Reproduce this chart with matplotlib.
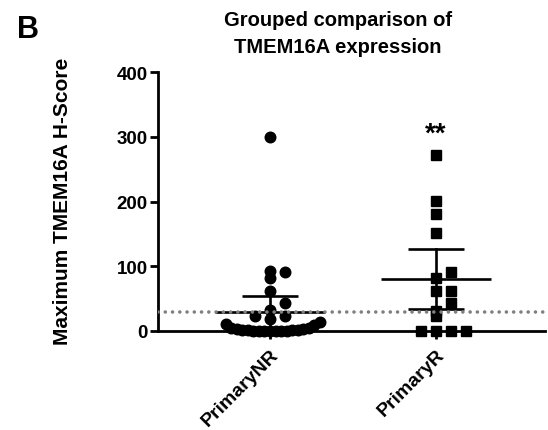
import numpy as np
import matplotlib
matplotlib.use("Agg")
import matplotlib.pyplot as plt

plt.rcParams['font.family'] = ['Liberation Sans', 'DejaVu Sans']
plt.rcParams['font.weight'] = 'bold'

# ---- data ----
categories = ["PrimaryNR", "PrimaryR"]
nr_values = [300, 93, 91, 82, 62, 43, 32, 23, 23, 18, 14, 11, 9, 5, 5, 3, 3,
             2, 2, 1, 1, 0, 0, 0, 0, 0, 0, 0]
r_values = [272, 201, 181, 151, 91, 82, 62, 62, 43, 31, 23, 0, 0, 0, 0]
group_means = [29, 80]
ci_low = [5, 34]
ci_high = [54, 127]
threshold = 30
y_ticks = [0, 100, 200, 300, 400]
significance = ["", "**"]

W, H, DPI = 5.48, 4.31, 100
fig = plt.figure(figsize=(W, H), dpi=DPI)
ax = fig.add_axes([0.2883, 0.2297, 0.7062, 0.6009])
ax.set_xlim(0.325, 2.657)
ax.set_ylim(0, 400)

# pixel scales
ax_w_px = 0.7062 * W * DPI
ax_h_px = 0.6009 * H * DPI
px_per_x = ax_w_px / (2.657 - 0.325)
px_per_y = ax_h_px / 400.0


def swarm(values, marker_px=10.0, max_width_px=100.0):
    """Prism-like binned swarm: returns x offsets (data units)."""
    vals = np.asarray(values, dtype=float)
    bin_h = marker_px / px_per_y
    bins = np.floor(vals / bin_h).astype(int)
    offs = np.zeros(len(vals))
    for b in np.unique(bins):
        idx = np.where(bins == b)[0]
        idx = idx[np.argsort(vals[idx], kind='stable')]
        n = len(idx)
        step = marker_px * 1.5
        if n * step > max_width_px:
            step = max_width_px / n
        for k, i in enumerate(idx):
            m = (k + 1) // 2
            sign = 1 if k % 2 == 1 else -1
            offs[i] = sign * m * step if k > 0 else 0.0
    return offs / px_per_x


markers = ['o', 's']
msizes = [7.6, 7.2]
for gi, vals in enumerate([nr_values, r_values]):
    x0 = gi + 1
    offs = swarm(vals)
    ax.plot(x0 + offs, vals, linestyle='none', marker=markers[gi],
            markersize=msizes[gi], color='black', clip_on=False, zorder=3)
    # mean line
    ax.plot([x0 - 0.33, x0 + 0.33], [group_means[gi]] * 2, color='black',
            lw=1.9, solid_capstyle='butt', zorder=4, clip_on=False)
    # CI
    ax.plot([x0, x0], [ci_low[gi], ci_high[gi]], color='black', lw=1.9, zorder=4)
    for v in (ci_low[gi], ci_high[gi]):
        ax.plot([x0 - 0.17, x0 + 0.17], [v, v], color='black', lw=1.9,
                solid_capstyle='butt', zorder=4)
    if significance[gi]:
        ax.text(x0, 305, significance[gi], ha='center', va='center',
                fontsize=20, fontweight='bold')

# threshold dotted line
ax.axhline(threshold, color='#808080', lw=2.6, linestyle=(0, (0.01, 2.0)),
           dash_capstyle='round', zorder=5)

# axes styling
for s in ['top', 'right']:
    ax.spines[s].set_visible(False)
for s in ['left', 'bottom']:
    ax.spines[s].set_linewidth(2.0)
ax.set_yticks(y_ticks)
ax.set_yticklabels([str(t) for t in y_ticks], fontsize=13.5, fontweight='bold')
ax.set_xticks([1, 2])
ax.set_xticklabels(categories, fontsize=14, fontweight='bold', rotation=45,
                   ha='right', va='top', rotation_mode='anchor')
ax.tick_params(axis='both', width=2.0, length=5.5, pad=2)
ax.tick_params(axis='x', pad=5)

fig.text(63 / 548, 1 - 201 / 431, "Maximum TMEM16A H-Score", rotation=90,
         ha='center', va='center', fontsize=15, fontweight='bold')
fig.text(338 / 548, 1 - 34 / 431, "Grouped comparison of\nTMEM16A expression",
         ha='center', va='center', fontsize=14.5, fontweight='bold',
         linespacing=1.55)
fig.text(28 / 548, 1 - 30 / 431, "B", ha='center', va='center', fontsize=22,
         fontweight='bold')

fig.savefig("out.png", dpi=DPI)
